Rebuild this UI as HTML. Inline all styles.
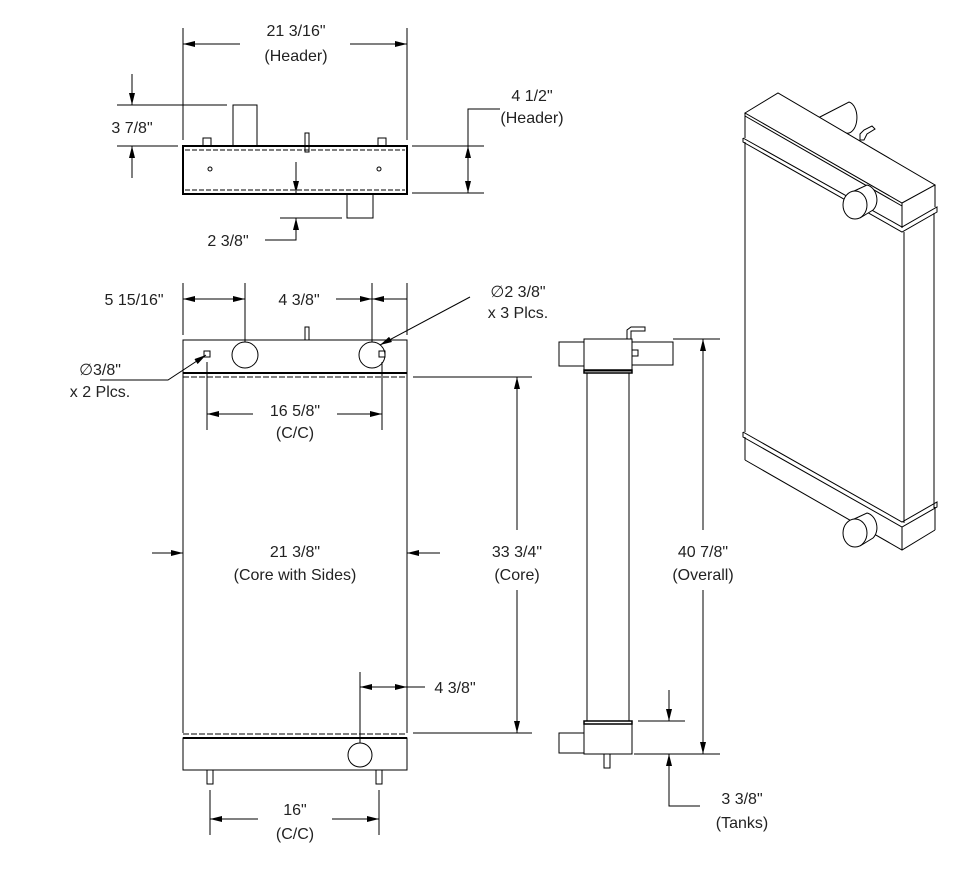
<!DOCTYPE html>
<html><head><meta charset="utf-8"><style>
html,body{margin:0;padding:0;background:#fff}
svg{display:block}
text{font-family:"Liberation Sans",sans-serif;font-size:16px;fill:#222;text-anchor:middle}
</style></head><body>
<svg width="960" height="869" viewBox="0 0 960 869" xmlns="http://www.w3.org/2000/svg">
<defs>
<marker id="a" viewBox="0 0 12 6" refX="12" refY="3" markerWidth="12" markerHeight="6" orient="auto-start-reverse" markerUnits="userSpaceOnUse"><path d="M0,0L12,3L0,6z" fill="#000"/></marker>
</defs>
<g stroke="#000" stroke-width="1" fill="none">
<!-- TOP VIEW -->
<line x1="183" y1="28" x2="183" y2="140"/><line x1="407" y1="28" x2="407" y2="140"/>
<line x1="183" y1="44" x2="240" y2="44" marker-start="url(#a)"/><line x1="350" y1="44" x2="407" y2="44" marker-end="url(#a)"/>
<rect x="183" y="146" width="224" height="48" stroke-width="2"/>
<line x1="185" y1="150" x2="405" y2="150" stroke-dasharray="5,2"/>
<line x1="185" y1="190" x2="405" y2="190" stroke-dasharray="5,2"/>
<rect x="233" y="105" width="24" height="41"/>
<rect x="203" y="138" width="8" height="8"/><rect x="378" y="138" width="8" height="8"/>
<rect x="305" y="133" width="4" height="19"/>
<circle cx="210" cy="169" r="2"/><circle cx="379" cy="169" r="2"/>
<line x1="296" y1="162" x2="296" y2="193" marker-end="url(#a)"/>
<rect x="347" y="194" width="26" height="24"/>
<line x1="117" y1="105" x2="227" y2="105"/><line x1="117" y1="146" x2="178" y2="146"/>
<line x1="132" y1="74" x2="132" y2="105" marker-end="url(#a)"/><line x1="132" y1="178" x2="132" y2="146" marker-end="url(#a)"/>
<line x1="412" y1="146" x2="484" y2="146"/><line x1="412" y1="193" x2="484" y2="193"/>
<line x1="468" y1="146" x2="468" y2="193" marker-start="url(#a)" marker-end="url(#a)"/>
<polyline points="468,146 468,109 500,109"/>
<line x1="280" y1="218" x2="342" y2="218"/>
<polyline points="265,240 296,240 296,218" marker-end="url(#a)"/>
<!-- FRONT VIEW -->
<rect x="183" y="340" width="224" height="33"/>
<line x1="183" y1="373" x2="407" y2="373" stroke-width="2"/>
<line x1="183" y1="377" x2="407" y2="377" stroke-dasharray="6,2"/>
<line x1="183" y1="373" x2="183" y2="733"/><line x1="407" y1="373" x2="407" y2="733"/>
<circle cx="245" cy="355" r="13"/><circle cx="372" cy="355" r="13"/>
<rect x="204" y="351" width="6" height="6"/><rect x="379" y="351" width="6" height="6"/>
<rect x="305" y="327" width="4" height="13"/>
<line x1="183" y1="283" x2="183" y2="335"/><line x1="245" y1="283" x2="245" y2="342"/>
<line x1="372" y1="283" x2="372" y2="342"/><line x1="407" y1="283" x2="407" y2="335"/>
<line x1="183" y1="299" x2="245" y2="299" marker-start="url(#a)" marker-end="url(#a)"/>
<line x1="336" y1="299" x2="372" y2="299" marker-end="url(#a)"/>
<line x1="372" y1="299" x2="407" y2="299" marker-start="url(#a)"/>
<line x1="470" y1="297" x2="380" y2="345" marker-end="url(#a)"/>
<polyline points="100,380 168,380 206,355" marker-end="url(#a)"/>
<line x1="207" y1="362" x2="207" y2="430"/><line x1="382" y1="362" x2="382" y2="430"/>
<line x1="207" y1="414" x2="253" y2="414" marker-start="url(#a)"/><line x1="337" y1="414" x2="382" y2="414" marker-end="url(#a)"/>
<line x1="152" y1="553" x2="183" y2="553" marker-end="url(#a)"/><line x1="440" y1="553" x2="407" y2="553" marker-end="url(#a)"/>
<line x1="413" y1="377" x2="532" y2="377"/><line x1="413" y1="733" x2="532" y2="733"/>
<line x1="517" y1="377" x2="517" y2="530" marker-start="url(#a)"/><line x1="517" y1="590" x2="517" y2="733" marker-end="url(#a)"/>
<line x1="183" y1="734" x2="407" y2="734" stroke-dasharray="6,2"/>
<line x1="183" y1="738" x2="407" y2="738" stroke-width="2"/>
<rect x="183" y="738" width="224" height="32"/>
<circle cx="360" cy="755" r="12"/>
<rect x="207" y="770" width="6" height="14"/><rect x="376" y="770" width="6" height="14"/>
<line x1="360" y1="672" x2="360" y2="743"/>
<line x1="360" y1="687" x2="407" y2="687" marker-start="url(#a)" marker-end="url(#a)"/><line x1="407" y1="687" x2="425" y2="687"/>
<line x1="210" y1="790" x2="210" y2="835"/><line x1="379" y1="790" x2="379" y2="835"/>
<line x1="210" y1="819" x2="258" y2="819" marker-start="url(#a)"/><line x1="332" y1="819" x2="379" y2="819" marker-end="url(#a)"/>
<!-- SIDE VIEW -->
<rect x="559" y="342" width="25" height="24"/>
<rect x="632" y="342" width="41" height="23"/>
<rect x="584" y="339" width="48" height="32"/>
<rect x="584" y="370" width="48" height="3" stroke-width="1.5"/>
<rect x="632" y="350" width="6" height="6"/>
<polyline points="627,339 627,330 631,327 645,327 645,331 631,331 631,339"/>
<line x1="587" y1="373" x2="587" y2="721"/><line x1="629" y1="373" x2="629" y2="721"/>
<rect x="584" y="721" width="48" height="3" stroke-width="1.5"/>
<rect x="584" y="724" width="48" height="30"/>
<rect x="559" y="733" width="25" height="20"/>
<rect x="604" y="754" width="6" height="14"/>
<line x1="673" y1="339" x2="720" y2="339"/><line x1="634" y1="754" x2="720" y2="754"/>
<line x1="703" y1="339" x2="703" y2="530" marker-start="url(#a)"/><line x1="703" y1="590" x2="703" y2="754" marker-end="url(#a)"/>
<line x1="638" y1="721" x2="685" y2="721"/>
<line x1="669" y1="690" x2="669" y2="721" marker-end="url(#a)"/>
<polyline points="700,806 669,806 669,754" marker-end="url(#a)"/>
<!-- ISO VIEW -->
<path d="M818,118 L849,102 A9,15 0 0 1 846,133" fill="#fff"/>
<polygon points="745,113 778,93 935,185 902,203" fill="#fff"/>
<path d="M860,140 L860,134 L864,130 L872,126 L875,129 L867,134 L864,140 z" fill="#fff"/>
<line x1="745" y1="113" x2="745" y2="138"/><line x1="902" y1="203" x2="902" y2="228"/><line x1="935" y1="185" x2="935" y2="207"/>
<line x1="745" y1="116" x2="902" y2="206"/>
<polyline points="743,138 743,142 902,232 937,212 937,207 902,227 743,138"/>
<line x1="745" y1="142" x2="745" y2="432"/><line x1="904" y1="232" x2="904" y2="523"/><line x1="934" y1="213" x2="934" y2="508"/>
<polyline points="743,432 743,437 902,527 937,507 937,502 902,522 743,432"/>
<line x1="745" y1="437" x2="745" y2="460"/><line x1="902" y1="527" x2="902" y2="550"/><line x1="935" y1="507" x2="935" y2="530"/>
<polyline points="745,460 902,550 935,530"/>
<path d="M852,192 L867,185 A11,14 -10 0 1 873,210 L860,218" fill="#fff"/>
<ellipse cx="855" cy="205" rx="12" ry="14" fill="#fff"/>
<path d="M852,520 L867,513 A11,14 -10 0 1 873,538 L860,546" fill="#fff"/>
<ellipse cx="855" cy="533" rx="12" ry="14" fill="#fff"/>
</g>
<g>
<text x="296" y="36">21 3/16"</text><text x="296" y="61">(Header)</text>
<text x="132" y="133">3 7/8"</text>
<text x="532" y="101">4 1/2"</text><text x="532" y="123">(Header)</text>
<text x="228" y="246">2 3/8"</text>
<text x="134" y="305">5 15/16"</text>
<text x="299" y="305">4 3/8"</text>
<text x="518" y="297">∅2 3/8"</text><text x="518" y="318">x 3 Plcs.</text>
<text x="100" y="375">∅3/8"</text><text x="100" y="397">x 2 Plcs.</text>
<text x="295" y="416">16 5/8"</text><text x="295" y="438">(C/C)</text>
<text x="295" y="557">21 3/8"</text><text x="295" y="580">(Core with Sides)</text>
<text x="517" y="557">33 3/4"</text><text x="517" y="580">(Core)</text>
<text x="703" y="557">40 7/8"</text><text x="703" y="580">(Overall)</text>
<text x="455" y="693">4 3/8"</text>
<text x="295" y="815">16"</text><text x="295" y="839">(C/C)</text>
<text x="742" y="804">3 3/8"</text><text x="742" y="828">(Tanks)</text>
</g>
</svg>
</body></html>
